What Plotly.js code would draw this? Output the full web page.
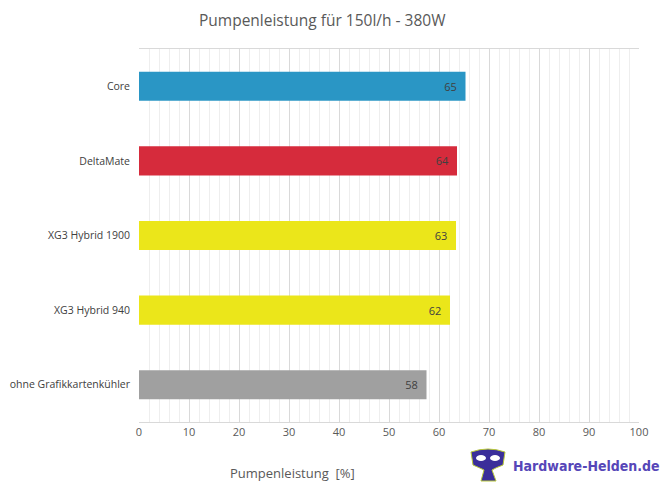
<!DOCTYPE html>
<html><head><meta charset="utf-8">
<script src="https://cdn.plot.ly/plotly-3.0.1.min.js"></script>
<style>body{margin:0;background:#fff}#c{width:663px;height:485px}</style>
</head><body><div id="c"></div>
<script>
const categories = ["Core", "DeltaMate", "XG3 Hybrid 1900", "XG3 Hybrid 940", "ohne Grafikkartenkühler"];
const values = [65.3, 63.6, 63.4, 62.2, 57.5];
const labels = ["65", "64", "63", "62", "58"];
const colors = ["#2A96C5", "#D62B3C", "#EBE61A", "#EBE61A", "#A0A0A0"];
const xTicks = [0,10,20,30,40,50,60,70,80,90,100];

const trace = {
  type: "bar", orientation: "h",
  y: categories, x: values,
  text: labels, texttemplate: "%{text}\u00a0\u00a0", textposition: "inside", insidetextanchor: "end",
  textfont: {family: "Open Sans, sans-serif", size: 11, color: "#404040"},
  marker: {color: colors}, width: 0.39, hoverinfo: "none"
};
const px = v => (v - 139) / 500;
const py = v => (422 - v) / 373;
const layout = {
  width: 663, height: 485,
  margin: {l: 139, r: 24, t: 49, b: 63},
  paper_bgcolor: "#fff", plot_bgcolor: "#fff",
  showlegend: false,
  font: {family: "Open Sans, sans-serif", color: "#595959"},
  title: {text: "Pumpenleistung für 150l/h - 380W", x: 0.486, xanchor: "center", y: 0.958, yanchor: "middle",
          font: {size: 15.5, color: "#595959"}},
  xaxis: {range: [0, 100], tickvals: xTicks, ticktext: xTicks.map(String), color: "#595959",
          showgrid: true, gridcolor: "#D9D9D9", gridwidth: 1,
          minor: {dtick: 2, tick0: 0, showgrid: true, gridcolor: "#EEEEEE", gridwidth: 1},
          showline: true, linecolor: "#D9D9D9", mirror: true, zeroline: false,
          ticks: "", tickfont: {size: 11, color: "#595959"}, fixedrange: true},
  yaxis: {categoryorder: "array", categoryarray: categories.slice().reverse(),
          showgrid: false, showline: false, zeroline: false,
          ticks: "", ticklabelstandoff: 8, tickfont: {size: 10.5, color: "#404040"}, fixedrange: true},
  annotations: [
    {text: "Pumpenleistung  [%]", xref: "paper", yref: "paper", x: px(292), y: py(473),
     xanchor: "center", yanchor: "middle", showarrow: false, font: {size: 13, color: "#595959"}},
    {text: "Hardware-Helden.de", xref: "paper", yref: "paper", x: px(662), y: py(466),
     xanchor: "right", yanchor: "middle", showarrow: false,
     font: {family: "DejaVu Sans Condensed, sans-serif", size: 14, color: "#5646B8", weight: 600}}
  ],
  shapes: [
    {type: "path", xref: "paper", yref: "paper",
     path: `M ${px(471)} ${py(452)} Q ${px(488)} ${py(446)} ${px(505)} ${py(452)} L ${px(503)} ${py(465)} Q ${px(495)} ${py(468)} ${px(492)} ${py(470)} L ${px(496)} ${py(481)} L ${px(481)} ${py(481)} L ${px(484)} ${py(470)} Q ${px(480)} ${py(468)} ${px(473)} ${py(465)} Z`,
     fillcolor: "#3A2E9A", line: {color: "#B8C83A", width: 1}},
    {type: "circle", xref: "paper", yref: "paper", x0: px(476), x1: px(486), y0: py(461), y1: py(455),
     fillcolor: "#ffffff", line: {width: 0}},
    {type: "circle", xref: "paper", yref: "paper", x0: px(490), x1: px(500), y0: py(461), y1: py(455),
     fillcolor: "#ffffff", line: {width: 0}}
  ]
};
Plotly.newPlot("c", [trace], layout, {staticPlot: true});
</script></body></html>
